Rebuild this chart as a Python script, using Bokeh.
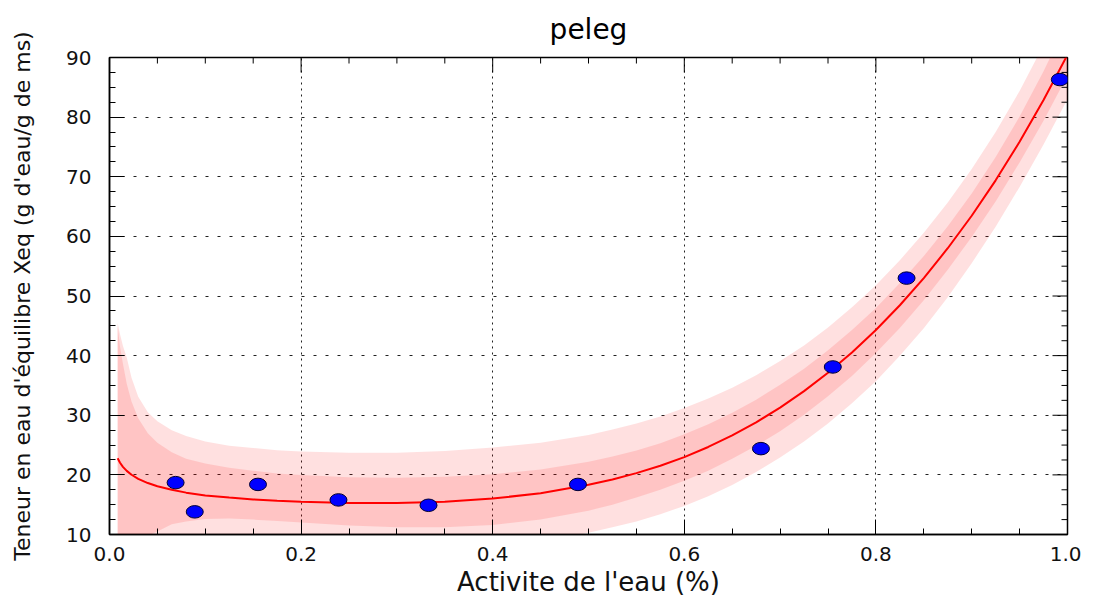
import math
from bokeh.plotting import figure
from bokeh.models import Range1d, FixedTicker, NumeralTickFormatter
from bokeh.embed import file_html
from bokeh.resources import INLINE

# Observed points (water activity, equilibrium moisture content)
aw_obs = [0.069, 0.089, 0.155, 0.239, 0.333, 0.489, 0.680, 0.755, 0.832, 0.992]
xeq_obs = [18.7, 13.8, 18.4, 15.8, 14.9, 18.4, 24.4, 38.1, 53.0, 86.3]

# Fitted Peleg curve with confidence (inner) and prediction (outer) bands
aw_fit = [0.0085, 0.011, 0.014, 0.018, 0.023, 0.03, 0.04, 0.05, 0.065, 0.08, 0.1, 0.125,
          0.15, 0.175, 0.2, 0.25, 0.3, 0.35, 0.4, 0.45, 0.5, 0.525, 0.55, 0.575, 0.6,
          0.625, 0.65, 0.675, 0.7, 0.725, 0.75, 0.775, 0.8, 0.825, 0.85, 0.875, 0.9,
          0.925, 0.95, 0.975, 1.0]
xeq_fit = [22.78, 22.04, 21.35, 20.67, 20.02, 19.34, 18.63, 18.10, 17.49, 17.02, 16.56, 16.19,
           15.88, 15.65, 15.48, 15.27, 15.29, 15.51, 16.02, 16.93, 18.34, 19.23, 20.29, 21.53, 22.98,
           24.68, 26.63, 28.82, 31.28, 34.04, 37.12, 40.53, 44.30, 48.45, 53.01, 58.01, 63.46,
           69.40, 75.87, 82.88, 90.46]
conf_hi = [45.0, 41.5, 38.7, 35.3, 32.3, 29.5, 27.0, 25.4, 23.8, 22.7, 21.9, 21.2,
           20.7, 20.25, 20.0, 19.6, 19.5, 19.7, 20.1, 20.9, 22.2, 23.1, 24.1, 25.3, 26.8,
           28.5, 30.4, 32.6, 35.1, 37.8, 40.9, 44.3, 48.0, 52.2, 56.7, 61.7, 67.2,
           73.3, 80.1, 87.7, 96.0]
conf_lo = [-27.2, -16.0, -6.7, 0.7, 5.5, 8.3, 9.8, 10.5, 11.7, 12.2, 12.6, 12.7,
           12.5, 12.25, 12.0, 11.5, 11.2, 11.2, 11.6, 12.5, 14.0, 15.0, 16.2, 17.5, 19.0,
           20.7, 22.7, 24.9, 27.3, 30.1, 33.2, 36.6, 40.45, 44.65, 49.3, 54.4, 59.9,
           65.85, 72.4, 79.4, 87.0]
pred_hi = [45.5, 43.6, 41.65, 39.7, 36.3, 33.1, 30.5, 29.0, 27.5, 26.5, 25.6, 24.9,
           24.5, 24.15, 23.9, 23.7, 23.7, 24.0, 24.6, 25.4, 26.7, 27.6, 28.6, 29.8, 31.2,
           32.8, 34.6, 36.7, 39.1, 41.7, 44.7, 48.1, 51.8, 56.0, 60.6, 65.7, 71.3,
           77.5, 84.4, 92.1, 100.5]
pred_lo = [-37.2, -26.0, -16.7, -9.3, -3.0, 1.3, 3.6, 4.6, 5.3, 5.7, 6.0, 6.2,
           6.3, 6.35, 6.4, 6.4, 6.6, 6.9, 7.6, 8.7, 10.3, 11.2, 12.2, 13.4, 14.8,
           16.4, 18.3, 20.5, 22.9, 25.6, 28.6, 32.0, 35.7, 40.0, 44.6, 49.8, 55.5,
           61.6, 68.3, 75.4, 83.0]

# Axis ticks
x_major = [0.0, 0.2, 0.4, 0.6, 0.8, 1.0]
x_minor = [0.05, 0.1, 0.15, 0.25, 0.3, 0.35, 0.45, 0.5, 0.55, 0.65, 0.7, 0.75, 0.85, 0.9, 0.95]
y_major = [10, 20, 30, 40, 50, 60, 70, 80, 90]
y_minor = [12.5, 15, 17.5, 22.5, 25, 27.5, 32.5, 35, 37.5, 42.5, 45, 47.5, 52.5, 55, 57.5,
           62.5, 65, 67.5, 72.5, 75, 77.5, 82.5, 85, 87.5]

x_label = "Activite de l'eau (%)"
y_label = "Teneur en eau d'équilibre Xeq (g d'eau/g de ms)"
title = "peleg"

FONT = "DejaVu Sans"
X0, X1, Y0, Y1 = 0.0, 1.0, 10.0, 90.0

p = figure(frame_width=958, frame_height=477,
           x_range=Range1d(X0, X1), y_range=Range1d(Y0, Y1),
           output_backend="svg", toolbar_location=None, title=title,
           min_border_left=109, min_border_right=14, min_border_top=57, min_border_bottom=0,
           background_fill_color="white", border_fill_color="white")

p.title.align = "center"
p.title.vertical_align = "top"
p.title.text_font = FONT
p.title.text_font_size = "28px"
p.title.text_font_style = "normal"
p.title.text_color = "black"
p.title.standoff = 20

# bands (two overlapping translucent fills)
p.varea(x=aw_fit, y1=pred_lo, y2=pred_hi, fill_color="#FF0000", fill_alpha=0.12)
p.varea(x=aw_fit, y1=conf_lo, y2=conf_hi, fill_color="#FF0000", fill_alpha=0.12)
p.line(aw_fit, xeq_fit, line_color="#FF0000", line_width=2)
p.ellipse(x=aw_obs, y=xeq_obs, width=17, height=12.5, width_units="screen", height_units="screen",
          fill_color="#0000FF", line_color="#000033", line_width=1)

xticker = FixedTicker(ticks=x_major, minor_ticks=x_minor)
yticker = FixedTicker(ticks=y_major, minor_ticks=y_minor)

p.xaxis.ticker = xticker
p.yaxis.ticker = yticker
p.xgrid.ticker = xticker
p.ygrid.ticker = yticker
p.xaxis.formatter = NumeralTickFormatter(format="0.0")

p.xgrid.grid_line_color = "#222222"
p.xgrid.grid_line_dash = "2 4"
p.ygrid.grid_line_color = "#222222"
p.ygrid.grid_line_dash = "3 9"
p.xgrid.grid_line_width = 1
p.ygrid.grid_line_width = 1

for ax in (p.xaxis[0], p.yaxis[0]):
    ax.major_tick_in = 15
    ax.major_tick_out = 0
    ax.minor_tick_in = 6
    ax.minor_tick_out = 0
    ax.axis_line_width = 1.5
    ax.axis_line_color = "black"
    ax.major_tick_line_color = "black"
    ax.minor_tick_line_color = "black"
    ax.major_label_text_font = FONT
    ax.major_label_text_font_size = "20px"
    ax.major_label_text_color = "#111111"
    ax.axis_label_text_font = FONT
    ax.axis_label_text_font_style = "normal"
    ax.axis_label_text_color = "#111111"

p.xaxis.axis_label = x_label
p.xaxis.axis_label_text_font_size = "26px"
p.xaxis.major_label_standoff = 12
p.xaxis.axis_label_standoff = 3

p.yaxis.axis_label = y_label
p.yaxis.axis_label_text_font_size = "22px"
p.yaxis.major_label_standoff = 18
p.yaxis.axis_label_standoff = 28

# mirrored inward ticks on the top and right edges
p.ray(x=x_major, y=[Y1] * len(x_major), length=15, length_units="screen",
      angle=-math.pi / 2, line_color="black", line_width=1)
p.ray(x=x_minor, y=[Y1] * len(x_minor), length=6, length_units="screen",
      angle=-math.pi / 2, line_color="black", line_width=1)
p.ray(x=[X1] * len(y_major), y=y_major, length=15, length_units="screen",
      angle=math.pi, line_color="black", line_width=1)
p.ray(x=[X1] * len(y_minor), y=y_minor, length=6, length_units="screen",
      angle=math.pi, line_color="black", line_width=1)

p.outline_line_color = "black"
p.outline_line_width = 1.5

open("out.html", "w").write(file_html(p, INLINE))
